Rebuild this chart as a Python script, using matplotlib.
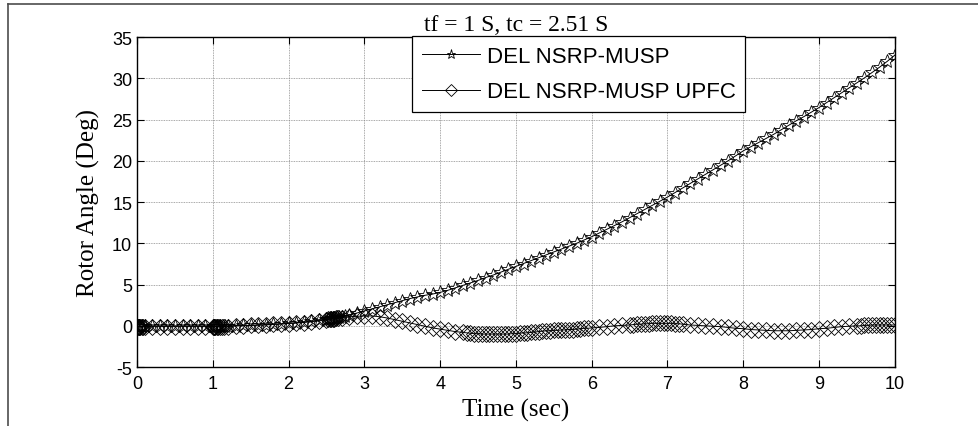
import matplotlib
matplotlib.use("Agg")
import matplotlib.pyplot as plt
from matplotlib.lines import Line2D

plt.rcParams["axes.unicode_minus"] = False

# simulation output (variable step -> uneven time points)
t_del = [0.0, 0.01, 0.02, 0.03, 0.05, 0.07, 0.1, 0.2, 0.3, 0.4, 0.5, 0.6, 0.7, 0.8, 0.9,
         1.0, 1.01, 1.02, 1.04, 1.06, 1.08, 1.1, 1.13, 1.16, 1.2, 1.3, 1.4, 1.5, 1.6, 1.7,
         1.8, 1.9, 2.0, 2.1, 2.2, 2.3, 2.4, 2.5, 2.52, 2.54, 2.56, 2.58, 2.6, 2.62, 2.64,
         2.67, 2.7, 2.75, 2.8, 2.9, 3.0, 3.1, 3.2, 3.3, 3.4, 3.5, 3.6, 3.7, 3.8, 3.9, 4.0,
         4.1, 4.2, 4.3, 4.4, 4.5, 4.6, 4.7, 4.8, 4.9, 5.0, 5.1, 5.2, 5.3, 5.4, 5.5, 5.6,
         5.7, 5.8, 5.9, 6.0, 6.1, 6.2, 6.3, 6.4, 6.5, 6.6, 6.7, 6.8, 6.9, 7.0, 7.1, 7.2,
         7.3, 7.4, 7.5, 7.6, 7.7, 7.8, 7.9, 8.0, 8.1, 8.2, 8.3, 8.4, 8.5, 8.6, 8.7, 8.8,
         8.9, 9.0, 9.1, 9.2, 9.3, 9.4, 9.5, 9.6, 9.7, 9.8, 9.9, 10.0]
del_nsrp = [0.0, 0.0, 0.0, 0.0, 0.0, 0.0, 0.0, 0.0, 0.0, 0.0, 0.0, 0.0, 0.0, 0.0, 0.0,
            0.0, 0.0, 0.0, 0.0, 0.0, 0.0, 0.0, 0.0, 0.01, 0.01, 0.02, 0.04, 0.06, 0.09, 0.13,
            0.18, 0.24, 0.3, 0.38, 0.47, 0.57, 0.68, 0.8, 0.83, 0.86, 0.89, 0.92, 0.95, 0.98, 1.01,
            1.06, 1.1, 1.2, 1.3, 1.55, 1.8, 2.05, 2.3, 2.55, 2.8, 3.05, 3.3, 3.5, 3.7, 3.85, 4.05,
            4.3, 4.6, 4.9, 5.2, 5.5, 5.85, 6.15, 6.5, 6.85, 7.2, 7.55, 7.9, 8.25, 8.6, 8.95, 9.3,
            9.65, 10.0, 10.4, 10.8, 11.25, 11.7, 12.15, 12.6, 13.1, 13.6, 14.1, 14.6, 15.1, 15.6, 16.15, 16.7,
            17.25, 17.8, 18.35, 18.9, 19.45, 20.0, 20.6, 21.2, 21.7, 22.2, 22.7, 23.2, 23.75, 24.3, 24.85, 25.35,
            25.9, 26.45, 27.05, 27.65, 28.25, 28.85, 29.45, 30.05, 30.7, 31.35, 32.05, 32.8]

t_upfc = [0.0, 0.01, 0.02, 0.03, 0.04, 0.06, 0.08, 0.1, 0.2, 0.3, 0.4, 0.5, 0.6, 0.7, 0.8, 0.9,
          1.0, 1.01, 1.02, 1.03, 1.05, 1.07, 1.09, 1.12, 1.15, 1.2, 1.3, 1.4, 1.5, 1.6, 1.7,
          1.8, 1.9, 2.0, 2.1, 2.2, 2.3, 2.4, 2.5, 2.52, 2.54, 2.56, 2.58, 2.6, 2.62, 2.65,
          2.7, 2.8, 2.9, 3.0, 3.1, 3.2, 3.3, 3.4, 3.5, 3.6, 3.7, 3.8, 3.9, 4.0, 4.1, 4.2,
          4.3, 4.35, 4.4, 4.45, 4.5, 4.55, 4.6, 4.65, 4.7, 4.75, 4.8, 4.85, 4.9, 4.95, 5.0,
          5.05, 5.1, 5.15, 5.2, 5.25, 5.3, 5.35, 5.4, 5.45, 5.5, 5.55, 5.6, 5.65, 5.7, 5.75,
          5.8, 5.85, 5.9, 5.95, 6.0, 6.1, 6.2, 6.3, 6.4, 6.5, 6.55, 6.6, 6.65, 6.7, 6.75,
          6.8, 6.85, 6.9, 6.95, 7.0, 7.05, 7.1, 7.15, 7.2, 7.3, 7.4, 7.5, 7.6, 7.7, 7.8, 7.9,
          8.0, 8.1, 8.2, 8.3, 8.4, 8.5, 8.6, 8.7, 8.8, 8.9, 9.0, 9.1, 9.2, 9.3, 9.4, 9.5,
          9.55, 9.6, 9.65, 9.7, 9.75, 9.8, 9.85, 9.9, 9.95, 10.0]
del_upfc = [-0.1, -0.1, -0.1, -0.1, -0.1, -0.1, -0.1, -0.1, -0.1, -0.1, -0.1, -0.1, -0.1, -0.1, -0.1, -0.1,
            -0.1, -0.1, -0.1, -0.1, -0.1, -0.1, -0.1, -0.1, -0.1, -0.1, 0.0, 0.0, 0.05, 0.1, 0.12,
            0.18, 0.22, 0.28, 0.33, 0.4, 0.5, 0.6, 0.75, 0.78, 0.8, 0.83, 0.86, 0.88, 0.9, 0.93,
            1.0, 1.1, 1.15, 1.2, 1.2, 1.1, 0.95, 0.75, 0.55, 0.35, 0.15, -0.05, -0.25, -0.4, -0.55, -0.7,
            -0.8, -0.85, -0.9, -0.95, -0.95, -1.0, -1.0, -1.0, -1.0, -1.0, -1.0, -1.0, -1.0, -0.95, -0.95,
            -0.9, -0.85, -0.85, -0.8, -0.75, -0.7, -0.65, -0.6, -0.6, -0.55, -0.55, -0.5, -0.5, -0.45, -0.45,
            -0.4, -0.35, -0.3, -0.3, -0.25, -0.2, -0.1, 0.0, 0.05, 0.1, 0.15, 0.2, 0.2, 0.25, 0.25,
            0.3, 0.3, 0.3, 0.3, 0.3, 0.3, 0.25, 0.25, 0.2, 0.1, 0.05, 0.0, -0.05, -0.1, -0.2, -0.3,
            -0.35, -0.45, -0.5, -0.55, -0.6, -0.6, -0.6, -0.55, -0.5, -0.45, -0.35, -0.3, -0.2, -0.1, -0.05, 0.0,
            0.0, 0.05, 0.05, 0.1, 0.1, 0.1, 0.1, 0.1, 0.1, 0.1]

x_ticks = list(range(0, 11))
y_ticks = list(range(-5, 36, 5))

serif = ["Liberation Serif", "DejaVu Serif"]
sans = ["Liberation Sans", "DejaVu Sans"]

fig = plt.figure(figsize=(9.79, 4.27), dpi=100)
ax = fig.add_axes([0.14, 0.138, 0.774, 0.773])

ax.plot(t_del, del_nsrp, color="black", lw=0.7, marker="*", ms=10, mfc="none",
        mec="black", mew=0.6, label="DEL NSRP-MUSP")
ax.plot(t_upfc, del_upfc, color="black", lw=0.7, marker="D", ms=8, mfc="none",
        mec="black", mew=0.6, label="DEL NSRP-MUSP UPFC")

ax.set_xlim(0, 10)
ax.set_ylim(-5, 35)
ax.set_xticks(x_ticks)
ax.set_yticks(y_ticks)
ax.grid(True, color="0.55", lw=0.6, ls=(0, (1, 1)))
ax.tick_params(direction="in", top=True, right=True, length=5, width=0.8, labelsize=13)
ax.tick_params(axis="x", pad=6)
for lab in ax.get_xticklabels() + ax.get_yticklabels():
    lab.set_family(sans)
for sp in ax.spines.values():
    sp.set_linewidth(1.0)

ax.set_xlabel("Time (sec)", family=serif, fontsize=18, labelpad=4)
ax.set_ylabel("Rotor Angle (Deg)", family=serif, fontsize=18, labelpad=9)
ax.set_title("tf = 1 S, tc = 2.51 S", family=serif, fontsize=17, pad=5)

leg = ax.legend(loc="upper left", bbox_to_anchor=(0.363, 1.003), prop={"family": sans, "size": 16},
                frameon=True, fancybox=False, edgecolor="black", framealpha=1,
                handlelength=2.6, handletextpad=0.3, borderpad=0.45, labelspacing=0.65,
                borderaxespad=0)
leg.get_frame().set_linewidth(0.9)
for h in leg.legend_handles:
    h.set_markersize(6.5)

# outer frame lines (top and left) seen in the original screenshot
fig.add_artist(Line2D([8 / 979, 1], [1 - 5 / 427, 1 - 5 / 427], color="0.3", lw=1.2))
fig.add_artist(Line2D([8 / 979, 8 / 979], [0, 1 - 5 / 427], color="0.3", lw=1.2))

fig.savefig("out.png", dpi=100)
